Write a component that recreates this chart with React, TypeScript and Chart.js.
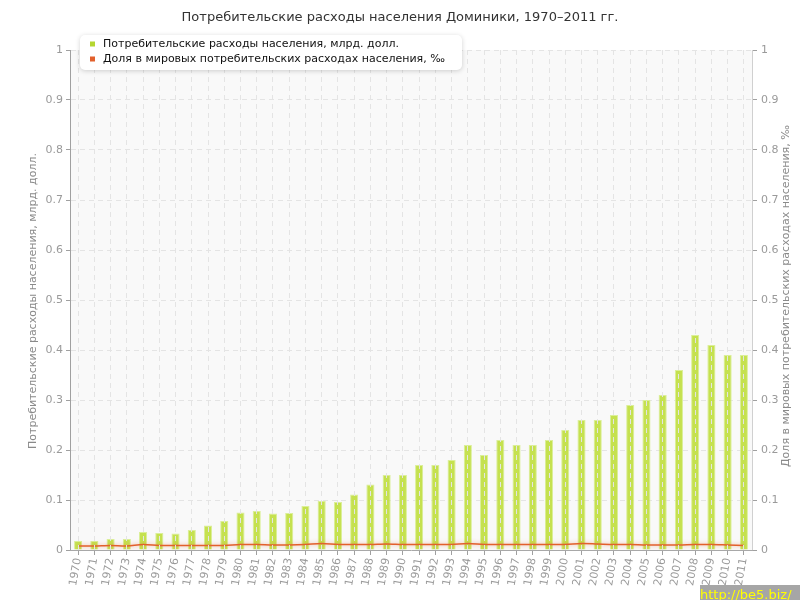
import React, { useEffect, useRef } from 'react';
import { Chart, registerables } from 'chart.js';

Chart.register(...registerables);

const chartTitle = 'Потребительские расходы населения Доминики, 1970–2011 гг.';
const seriesNames = [
  'Потребительские расходы населения, млрд. долл.',
  'Доля в мировых потребительских расходах населения, ‰',
];
const leftAxisTitle = 'Потребительские расходы населения, млрд. долл.';
const rightAxisTitle = 'Доля в мировых потребительских расходах населения, ‰';
const watermark = 'http://be5.biz/';

const years = [
  '1970', '1971', '1972', '1973', '1974', '1975', '1976', '1977', '1978', '1979',
  '1980', '1981', '1982', '1983', '1984', '1985', '1986', '1987', '1988', '1989',
  '1990', '1991', '1992', '1993', '1994', '1995', '1996', '1997', '1998', '1999',
  '2000', '2001', '2002', '2003', '2004', '2005', '2006', '2007', '2008', '2009',
  '2010', '2011',
];

// billion USD
const consumption = [
  0.018, 0.018, 0.022, 0.022, 0.036, 0.034, 0.033, 0.04, 0.049, 0.058,
  0.075, 0.078, 0.073, 0.074, 0.088, 0.098, 0.096, 0.111, 0.131, 0.15,
  0.15, 0.17, 0.17, 0.18, 0.21, 0.19, 0.22, 0.21, 0.21, 0.22,
  0.24, 0.26, 0.26, 0.27, 0.29, 0.30, 0.31, 0.36, 0.43, 0.41,
  0.39, 0.39,
];

// per mille of world consumption
const worldShare = [
  0.008, 0.008, 0.009, 0.008, 0.011, 0.009, 0.009, 0.009, 0.009, 0.009,
  0.011, 0.011, 0.010, 0.010, 0.011, 0.013, 0.011, 0.011, 0.011, 0.012,
  0.011, 0.011, 0.011, 0.011, 0.013, 0.011, 0.011, 0.011, 0.011, 0.011,
  0.011, 0.013, 0.012, 0.011, 0.011, 0.010, 0.010, 0.010, 0.011, 0.011,
  0.010, 0.009,
];

const yTickLabels = ['0', '0.1', '0.2', '0.3', '0.4', '0.5', '0.6', '0.7', '0.8', '0.9', '1'];

const FONT = '"DejaVu Sans", Verdana, sans-serif';
const barColor = 'rgba(192,222,64,0.92)';
const barBorder = '#dbef98';
const lineColor = '#e2602c';

const decorPlugin = {
  id: 'decor',
  beforeDraw(chart: any) {
    const { ctx, chartArea } = chart;
    ctx.save();
    ctx.fillStyle = '#ffffff';
    ctx.fillRect(0, 0, chart.width, chart.height);
    ctx.fillStyle = '#f9f9f9';
    ctx.fillRect(chartArea.left, chartArea.top, chartArea.right - chartArea.left, chartArea.bottom - chartArea.top);
    ctx.restore();
  },
  beforeDatasetDraw(chart: any, args: any) {
    if (args.index === 1) {
      const { ctx } = chart;
      ctx.save();
      ctx.shadowColor = 'rgba(226,110,60,0.55)';
      ctx.shadowBlur = 4;
    }
  },
  afterDatasetDraw(chart: any, args: any) {
    if (args.index === 1) chart.ctx.restore();
  },
  afterDraw(chart: any) {
    const { ctx } = chart;
    ctx.save();
    // title
    ctx.fillStyle = '#333';
    ctx.font = `13px ${FONT}`;
    ctx.textAlign = 'center';
    ctx.textBaseline = 'middle';
    ctx.fillText(chartTitle, 400, 18);

    // axis titles
    ctx.fillStyle = '#8a8a8a';
    ctx.font = `11px ${FONT}`;
    ctx.save();
    ctx.translate(33, 301);
    ctx.rotate(-Math.PI / 2);
    ctx.fillText(leftAxisTitle, 0, 0);
    ctx.restore();
    ctx.save();
    ctx.translate(786, 296);
    ctx.rotate(-Math.PI / 2);
    ctx.fillText(rightAxisTitle, 0, 0);
    ctx.restore();

    // legend
    const lx = 80, ly = 35, lw = 382, lh = 35;
    ctx.save();
    ctx.shadowColor = 'rgba(0,0,0,0.18)';
    ctx.shadowBlur = 5;
    ctx.shadowOffsetY = 1;
    ctx.fillStyle = '#ffffff';
    ctx.beginPath();
    (ctx as any).roundRect(lx, ly, lw, lh, 5);
    ctx.fill();
    ctx.restore();
    ctx.textAlign = 'left';
    ctx.textBaseline = 'middle';
    ctx.font = `11px ${FONT}`;
    const colors = ['#b5d630', '#e2602c'];
    seriesNames.forEach((name, i) => {
      const cy = 44 + i * 15;
      ctx.fillStyle = colors[i];
      ctx.fillRect(90, cy - 2.5, 5, 5);
      ctx.fillStyle = '#111';
      ctx.fillText(name, 103, cy);
    });

    // watermark
    ctx.fillStyle = '#a6a6a6';
    ctx.fillRect(700, 585, 100, 15);
    ctx.fillStyle = '#ffff00';
    ctx.font = `13px ${FONT}`;
    ctx.textAlign = 'left';
    ctx.textBaseline = 'alphabetic';
    ctx.fillText(watermark, 700, 599);
    ctx.restore();
  },
};

export default function App() {
  const canvasRef = useRef<HTMLCanvasElement | null>(null);

  useEffect(() => {
    const canvas = canvasRef.current;
    if (!canvas) return;
    const chart = new Chart(canvas, {
      type: 'bar',
      data: {
        labels: years,
        datasets: [
          {
            type: 'bar',
            label: seriesNames[0],
            data: consumption,
            yAxisID: 'y',
            backgroundColor: barColor,
            borderColor: barBorder,
            borderWidth: 1,
            barPercentage: 0.5,
            categoryPercentage: 1,
            order: 1,
          } as any,
          {
            type: 'line',
            label: seriesNames[1],
            data: worldShare,
            yAxisID: 'y1',
            borderColor: lineColor,
            borderWidth: 1.5,
            pointRadius: 0,
            tension: 0.3,
            fill: false,
            order: 0,
          } as any,
        ],
      },
      options: {
        responsive: false,
        animation: false,
        devicePixelRatio: 1,
        layout: { padding: { top: 50, left: 0, right: 0, bottom: 0 } },
        plugins: {
          legend: { display: false },
          title: { display: false },
          tooltip: { enabled: false },
        },
        scales: {
          x: {
            type: 'category',
            offset: true,
            afterFit: (s: any) => { s.height = 50; },
            grid: {
              offset: false,
              color: '#e4e4e4',
              lineWidth: 1,
              drawTicks: true,
              tickLength: 5,
              tickColor: '#a0a0a0',
              z: 1,
            },
            border: { display: true, color: '#a8a8a8', width: 1, dash: [5, 4], z: 2 },
            ticks: {
              autoSkip: false,
              minRotation: 80,
              maxRotation: 80,
              color: '#9a9a9a',
              font: { family: FONT, size: 11 },
              padding: 2,
            },
          },
          y: {
            position: 'left',
            min: 0,
            max: 1,
            afterFit: (s: any) => { s.width = 70; },
            grid: {
              color: '#e4e4e4',
              tickColor: '#a0a0a0',
              tickLength: 4,
              lineWidth: 1,
            },
            border: { display: true, color: '#a0a0a0', width: 1, dash: [5, 4] },
            ticks: {
              stepSize: 0.1,
              color: '#9a9a9a',
              font: { family: FONT, size: 11 },
              padding: 3,
              callback: (_v: any, i: number) => yTickLabels[i],
            },
          },
          y1: {
            position: 'right',
            min: 0,
            max: 1,
            afterFit: (s: any) => { s.width = 48; },
            grid: {
              drawOnChartArea: false,
              tickColor: '#a0a0a0',
              tickLength: 5,
            },
            border: { display: true, color: '#d0d0d0', width: 1 },
            ticks: {
              stepSize: 0.1,
              color: '#9a9a9a',
              font: { family: FONT, size: 11 },
              padding: 4,
              callback: (_v: any, i: number) => yTickLabels[i],
            },
          },
        },
      } as any,
      plugins: [decorPlugin],
    });
    return () => chart.destroy();
  }, []);

  return (
    <div style={{ position: 'fixed', left: 0, top: 0, width: 800, height: 600 }}>
      <canvas ref={canvasRef} width={800} height={600} style={{ display: 'block' }} />
    </div>
  );
}
